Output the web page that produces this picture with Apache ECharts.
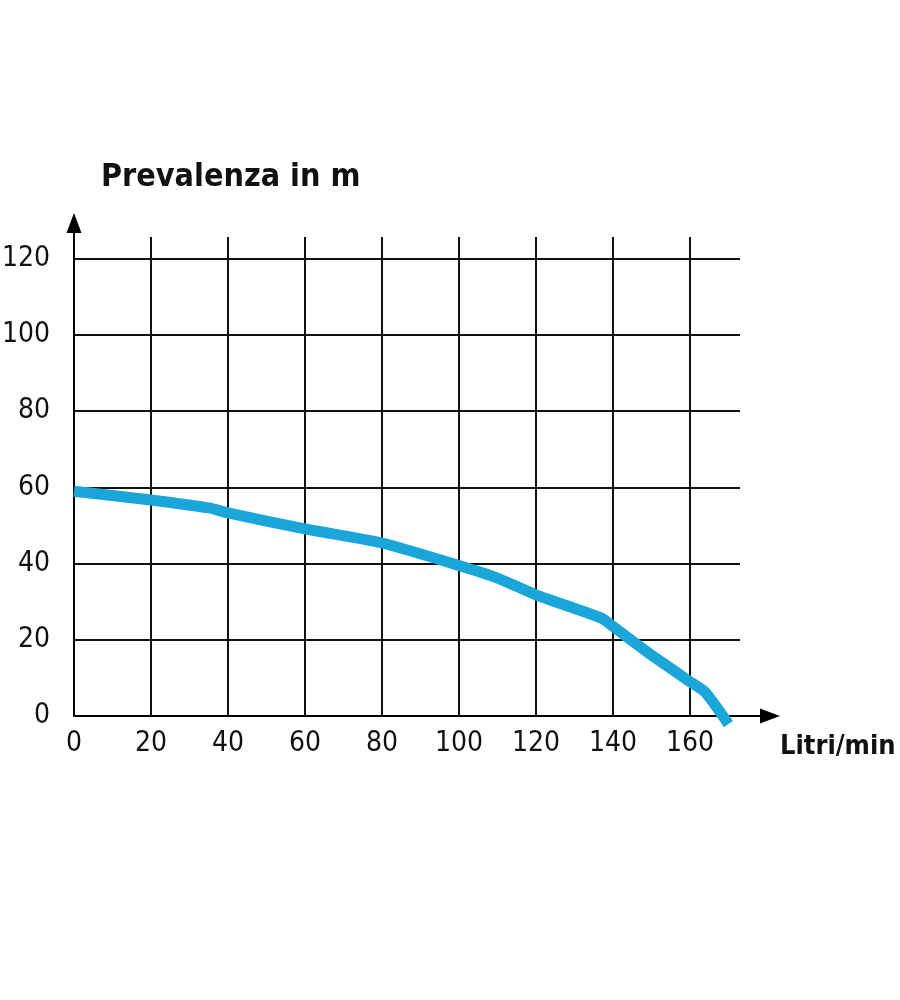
<!DOCTYPE html>
<html>
<head>
<meta charset="utf-8">
<script src="https://cdn.jsdelivr.net/npm/echarts@6/dist/echarts.min.js"></script>
<style>
  html, body { margin: 0; padding: 0; background: #fff; }
  #chart { width: 900px; height: 1000px; }
</style>
</head>
<body>
<div id="chart"></div>
<script>
// curve
const flow = [0, 20, 35, 40, 60, 80, 100, 110, 120, 137, 140, 150, 160, 164, 170];
const head = [59.0, 56.7, 54.6, 53.3, 49.1, 45.4, 39.5, 36.2, 31.8, 25.7, 23.5, 16.0, 9.0, 6.2, -2.1];

const xTicks = [0, 20, 40, 60, 80, 100, 120, 140, 160];
const yTicks = [0, 20, 40, 60, 80, 100, 120];

const narrow = "'DejaVu Sans Condensed', 'Liberation Sans Narrow', sans-serif";
const ink = '#111';

const myChart = echarts.init(document.getElementById('chart'));

const option = {
  backgroundColor: '#fff',
  animation: false,
  title: [
    {
      text: 'Prevalenza in m',
      left: 96, top: 157,
      textStyle: { fontFamily: narrow, fontWeight: 'bold', fontSize: 32, color: '#111' }
    },
    {
      text: 'Litri/min',
      left: 775, top: 728,
      textStyle: { fontFamily: narrow, fontWeight: 'bold', fontSize: 27, color: '#111' }
    }
  ],
  grid: [
    // plot area with the grid lines
    { left: 74, top: 237, width: 666, height: 479, outerBoundsMode: 'none', containLabel: false },
    // wider one, only for the axis lines and arrows
    { left: 74, top: 223, width: 696, height: 493, outerBoundsMode: 'none', containLabel: false }
  ],
  xAxis: [
    {
      gridIndex: 0, type: 'value', min: 0, max: 173, interval: 20,
      axisLine: { show: false },
      axisTick: { show: false },
      axisLabel: {
        margin: 14, fontFamily: narrow, fontSize: 28, color: ink,
        showMaxLabel: false,
        formatter: v => (xTicks.indexOf(v) >= 0 ? String(v) : '')
      },
      splitLine: { show: true, showMaxLine: false, lineStyle: { color: ink, width: 2 } }
    },
    {
      gridIndex: 1, type: 'value', min: 0, max: 1,
      axisLine: { show: true, onZero: false, symbol: ['none', 'triangle'], symbolSize: [15, 20],
        lineStyle: { color: '#000', width: 2 } },
      axisTick: { show: false }, axisLabel: { show: false }, splitLine: { show: false }
    }
  ],
  yAxis: [
    {
      gridIndex: 0, type: 'value', min: 0, max: 125.7, interval: 20,
      axisLine: { show: false },
      axisTick: { show: false },
      axisLabel: {
        margin: 24, fontFamily: narrow, fontSize: 28, color: ink,
        showMaxLabel: false,
        formatter: v => (yTicks.indexOf(v) >= 0 ? String(v) : '')
      },
      splitLine: { show: true, showMaxLine: false, lineStyle: { color: ink, width: 2 } }
    },
    {
      gridIndex: 1, type: 'value', min: 0, max: 1,
      axisLine: { show: true, onZero: false, symbol: ['none', 'triangle'], symbolSize: [15, 20],
        lineStyle: { color: '#000', width: 2 } },
      axisTick: { show: false }, axisLabel: { show: false }, splitLine: { show: false }
    }
  ],
  series: [
    {
      type: 'line',
      xAxisIndex: 0, yAxisIndex: 0,
      data: flow.map((f, i) => [f, head[i]]),
      showSymbol: false,
      smooth: 0.2,
      clip: false,
      lineStyle: { color: '#1ba6da', width: 11, cap: 'butt', join: 'round' }
    }
  ]
};

myChart.setOption(option);
</script>
</body>
</html>
